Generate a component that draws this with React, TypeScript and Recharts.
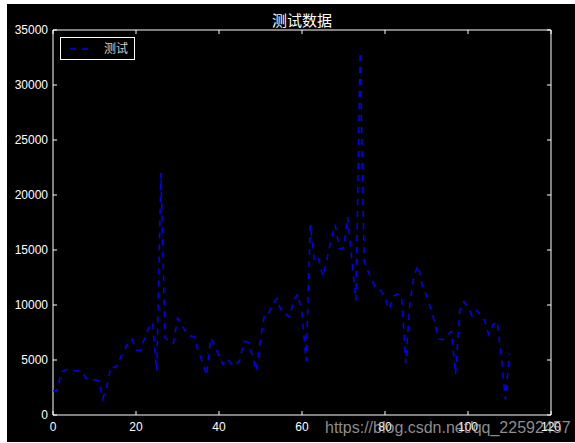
import React from 'react';
import { LineChart, Line, XAxis, YAxis, ReferenceArea, Legend } from 'recharts';

const titleText = '测试数据';
const seriesName = '测试';
const watermark = 'https://blog.csdn.net/qq_22592457';

const xTicks = [0, 20, 40, 60, 80, 100, 120];
const yTicks = [0, 5000, 10000, 15000, 20000, 25000, 30000, 35000];

const values = [
  2200, 2200, 3900, 4100, 4200, 4050, 4000, 3900, 3300, 3250,
  3200, 3100, 1450, 2700, 4450, 4300, 5000, 5800, 6500, 6900,
  5900, 5850, 6900, 7900, 8400, 4000, 22000, 7000, 6700, 6500,
  8800, 8200, 7500, 7200, 7100, 5800, 4800, 3600, 7000, 6300,
  5300, 4600, 5100, 4600, 4450, 5000, 6700, 6600, 5450, 4000,
  6900, 9200, 9300, 10100, 10600, 9400, 9200, 8900, 10450, 11000,
  9200, 4900, 17300, 13900, 14200, 12600, 14100, 16000, 17300, 15100,
  15200, 18000, 14100, 10400, 33000, 13900, 13000, 12100, 11400, 11300,
  10600, 9600, 10800, 11000, 10800, 4700, 10200, 12700, 13600, 11700,
  10900, 9700, 8300, 6900, 6850, 7300, 7600, 3700, 9500, 10300,
  9800, 9000, 9500, 9100, 8600, 7300, 8200, 8500, 5400, 1400,
  5600,
];

const data = values.map((v, i) => ({ x: i, v }));

const W = 568;
const H = 438;
const PLOT_W = 498;
const PLOT_H = 385;
const TICK = 4;
const tickFont = '"Liberation Sans", Arial, sans-serif';

const XTick = (props: any) => {
  const { x, y, payload } = props;
  return (
    <g>
      <line x1={x} y1={y} x2={x} y2={y - TICK} stroke="#fff" strokeWidth={1} />
      <line x1={x} y1={y - PLOT_H} x2={x} y2={y - PLOT_H + TICK} stroke="#fff" strokeWidth={1} />
      <text x={x} y={y + 16} textAnchor="middle" fill="#fff" fontSize={12} fontFamily={tickFont}>
        {payload.value}
      </text>
    </g>
  );
};

const YTick = (props: any) => {
  const { x, y, payload } = props;
  return (
    <g>
      <line x1={x} y1={y} x2={x + TICK} y2={y} stroke="#fff" strokeWidth={1} />
      <line x1={x + PLOT_W} y1={y} x2={x + PLOT_W - TICK} y2={y} stroke="#fff" strokeWidth={1} />
      <text x={x - 5} y={y + 4} textAnchor="end" fill="#fff" fontSize={12} fontFamily={tickFont}>
        {payload.value}
      </text>
    </g>
  );
};

const LegendBox = () => (
  <div
    style={{
      width: 73,
      height: 21,
      border: '1px solid #fff',
      background: '#000',
      position: 'relative',
    }}
  >
    <svg width={30} height={21} style={{ position: 'absolute', left: 6, top: 0 }}>
      <line x1={3} y1={11} x2={25} y2={11} stroke="#0000ff" strokeWidth={1.5} strokeDasharray="6 6" />
    </svg>
    <span
      style={{
        position: 'absolute',
        left: 43,
        top: 2,
        fontSize: 12,
        lineHeight: '16px',
        color: '#cfcfcf',
        fontFamily: '"Noto Sans CJK SC", sans-serif',
      }}
    >
      {seriesName}
    </span>
  </div>
);

export default function App() {
  return (
    <div style={{ position: 'absolute', left: 7, top: 4, width: W, height: H, background: '#000' }}>
      <div
        style={{
          position: 'absolute',
          left: 46,
          width: PLOT_W,
          top: 5,
          textAlign: 'center',
          color: '#fff',
          fontSize: 15,
          lineHeight: '22px',
          fontFamily: '"Noto Sans CJK SC", sans-serif',
        }}
      >
        {titleText}
      </div>
      <LineChart width={W} height={H} data={data} margin={{ top: 26, right: 24, left: 0, bottom: 0 }}>
        <XAxis
          dataKey="x"
          type="number"
          domain={[0, 120]}
          ticks={xTicks}
          interval={0}
          axisLine={false}
          tickLine={false}
          tickSize={0}
          tickMargin={0}
          height={27}
          tick={<XTick />}
          allowDataOverflow
        />
        <YAxis
          type="number"
          domain={[0, 35000]}
          ticks={yTicks}
          interval={0}
          axisLine={false}
          tickLine={false}
          tickSize={0}
          tickMargin={0}
          width={46}
          tick={<YTick />}
          allowDataOverflow
        />
        <ReferenceArea x1={0} x2={120} y1={0} y2={35000} stroke="#fff" strokeWidth={1} fill="none" fillOpacity={0} />
        <Line
          type="linear"
          dataKey="v"
          name={seriesName}
          stroke="#0000ff"
          strokeWidth={1.5}
          strokeDasharray="6 6"
          dot={false}
          activeDot={false}
          isAnimationActive={false}
        />
        <Legend
          layout="horizontal"
          verticalAlign="middle"
          align="center"
          content={() => <LegendBox />}
          wrapperStyle={{ top: 33, left: 53, width: 75, height: 23 }}
        />
      </LineChart>
      <div
        style={{
          position: 'absolute',
          left: 318,
          top: 414,
          color: 'rgba(190,190,190,0.75)',
          fontSize: 16,
          lineHeight: '20px',
          fontFamily: '"Liberation Sans", Arial, sans-serif',
          whiteSpace: 'nowrap',
          pointerEvents: 'none',
        }}
      >
        {watermark}
      </div>
    </div>
  );
}
